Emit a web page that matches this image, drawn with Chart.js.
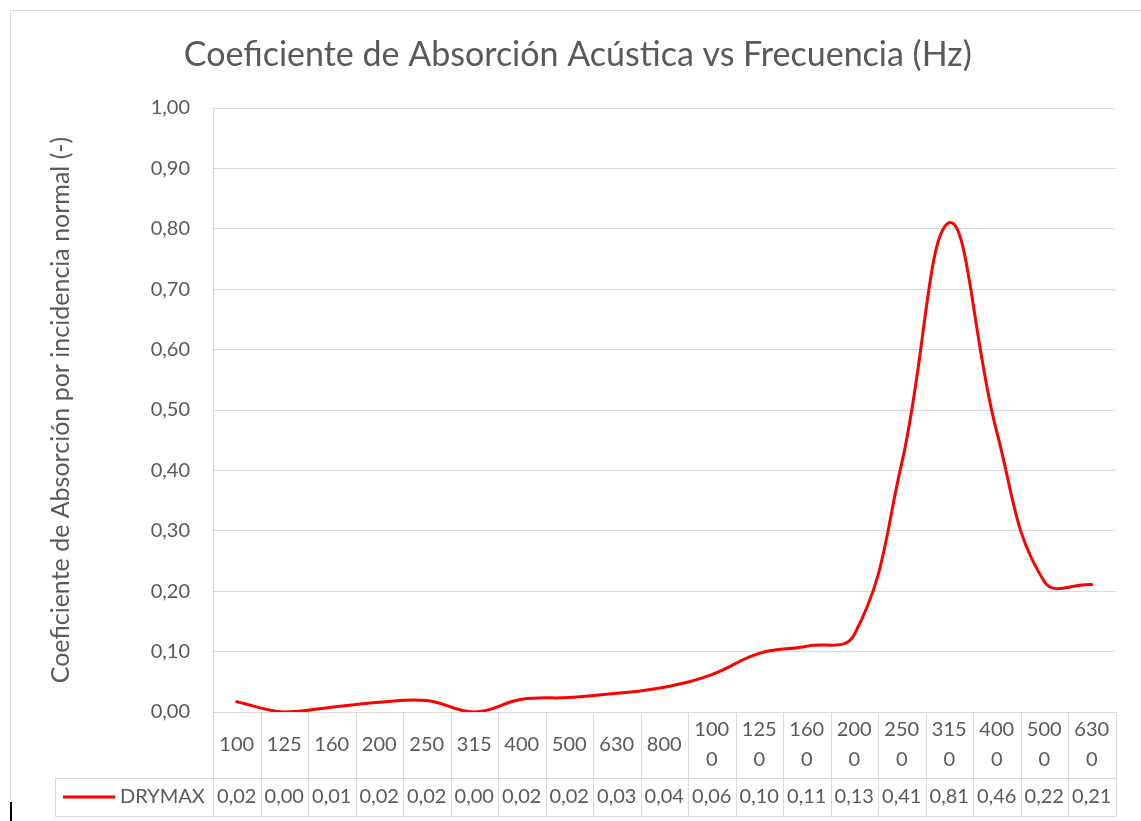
<!DOCTYPE html>
<html>
<head>
<meta charset="utf-8">
<script src="https://cdn.jsdelivr.net/npm/chart.js@4.4.0/dist/chart.umd.min.js"></script>
<style>
html,body{margin:0;padding:0;background:#fff;}
#wrap{position:relative;width:1141px;height:821px;}
canvas{display:block;}
</style>
</head>
<body>
<div id="wrap"><canvas id="c" width="1141" height="821"></canvas></div>
<script>
// ---- data ----
const categories = ['100','125','160','200','250','315','400','500','630','800','1000','1250','1600','2000','2500','3150','4000','5000','6300'];
const seriesName = 'DRYMAX';
const seriesValues = [0.017,0,0.008,0.016,0.019,0,0.021,0.024,0.031,0.041,0.062,0.097,0.109,0.128,0.412,0.81,0.464,0.216,0.211];
const yTickLabels = ['0,00','0,10','0,20','0,30','0,40','0,50','0,60','0,70','0,80','0,90','1,00'];
const chartTitle = 'Coeficiente de Absorción Acústica vs Frecuencia (Hz)';
const yAxisTitle = 'Coeficiente de Absorción por incidencia normal (-)';

const FONT = 'Lato';
const TEXT = '#595959';
const GRID = '#d9d9d9';
const RED = '#ff0000';

const fmt = v => v.toFixed(2).replace('.', ',');

const framePlugin = {
  id: 'frame',
  beforeDraw(chart) {
    const ctx = chart.ctx;
    ctx.save();
    ctx.fillStyle = '#fff';
    ctx.fillRect(0, 0, chart.width, chart.height);
    ctx.strokeStyle = GRID;
    ctx.lineWidth = 1;
    ctx.beginPath();
    ctx.moveTo(10.5, 800);
    ctx.lineTo(10.5, 10.5);
    ctx.lineTo(chart.width, 10.5);
    ctx.stroke();
    ctx.fillStyle = '#000';
    ctx.fillRect(10, 802, 2, 19);
    ctx.restore();
  }
};

const tablePlugin = {
  id: 'dataTable',
  afterDraw(chart) {
    const ctx = chart.ctx;
    const xs = chart.scales.x;
    const area = chart.chartArea;
    const n = categories.length;
    const half = (xs.getPixelForValue(1) - xs.getPixelForValue(0)) / 2;
    const top = area.bottom;
    const row1 = top + 66;
    const row2 = row1 + 38;
    const legendLeft = 55;
    const al = v => Math.round(v) + 0.5;
    ctx.save();
    ctx.strokeStyle = GRID;
    ctx.lineWidth = 1;
    ctx.beginPath();
    for (let i = 0; i <= n; i++) {
      const px = al(i < n ? xs.getPixelForValue(i) - half : xs.getPixelForValue(n - 1) + half);
      ctx.moveTo(px, top);
      ctx.lineTo(px, row2);
    }
    ctx.moveTo(legendLeft, al(row1));
    ctx.lineTo(al(xs.getPixelForValue(n - 1) + half), al(row1));
    ctx.moveTo(legendLeft, al(row2));
    ctx.lineTo(al(xs.getPixelForValue(n - 1) + half), al(row2));
    ctx.moveTo(al(legendLeft), al(row1));
    ctx.lineTo(al(legendLeft), al(row2));
    ctx.stroke();

    ctx.fillStyle = TEXT;
    ctx.font = '20px ' + FONT;
    ctx.textAlign = 'center';
    ctx.textBaseline = 'middle';
    const midTop = (top + row1) / 2;
    categories.forEach((c, i) => {
      const cx = xs.getPixelForValue(i);
      if (c.length > 3) {
        ctx.fillText(c.slice(0, 3), cx, midTop - 15);
        ctx.fillText(c.slice(3), cx, midTop + 15);
      } else {
        ctx.fillText(c, cx, midTop);
      }
    });
    const midBot = (row1 + row2) / 2;
    seriesValues.forEach((v, i) => {
      ctx.fillText(fmt(v), xs.getPixelForValue(i), midBot);
    });
    // legend key
    ctx.strokeStyle = RED;
    ctx.lineWidth = 3;
    ctx.beginPath();
    ctx.moveTo(63, midBot);
    ctx.lineTo(115, midBot);
    ctx.stroke();
    ctx.textAlign = 'left';
    ctx.fillText(seriesName, 120, midBot);
    ctx.restore();
  }
};

new Chart(document.getElementById('c'), {
  type: 'line',
  data: {
    labels: categories,
    datasets: [{
      label: seriesName,
      data: seriesValues,
      borderColor: RED,
      backgroundColor: RED,
      borderWidth: 3,
      pointRadius: 0,
      tension: 0.42,
      borderCapStyle: 'round',
      borderJoinStyle: 'round',
      fill: false
    }]
  },
  options: {
    responsive: false,
    animation: false,
    devicePixelRatio: 1,
    layout: { padding: { top: 10, left: 40, right: 25.5, bottom: 109 } },
    plugins: {
      legend: { display: false },
      tooltip: { enabled: false },
      title: {
        display: true,
        text: chartTitle,
        color: TEXT,
        font: { family: FONT, size: 34, weight: 'normal' },
        padding: { top: 24.6, bottom: 32.6 }
      }
    },
    scales: {
      x: {
        type: 'category',
        display: false,
        offset: true
      },
      y: {
        min: 0,
        max: 1,
        afterFit: s => { s.width = 173; },
        ticks: {
          stepSize: 0.1,
          color: TEXT,
          padding: 23,
          font: { family: FONT, size: 20 },
          callback: (v, i) => yTickLabels[i]
        },
        grid: { color: GRID, drawTicks: false, lineWidth: 1 },
        border: { display: true, color: GRID },
        title: {
          display: true,
          text: yAxisTitle,
          color: TEXT,
          font: { family: FONT, size: 25 },
          padding: { top: 6, bottom: 0 }
        }
      }
    }
  },
  plugins: [framePlugin, tablePlugin]
});
</script>
</body>
</html>
